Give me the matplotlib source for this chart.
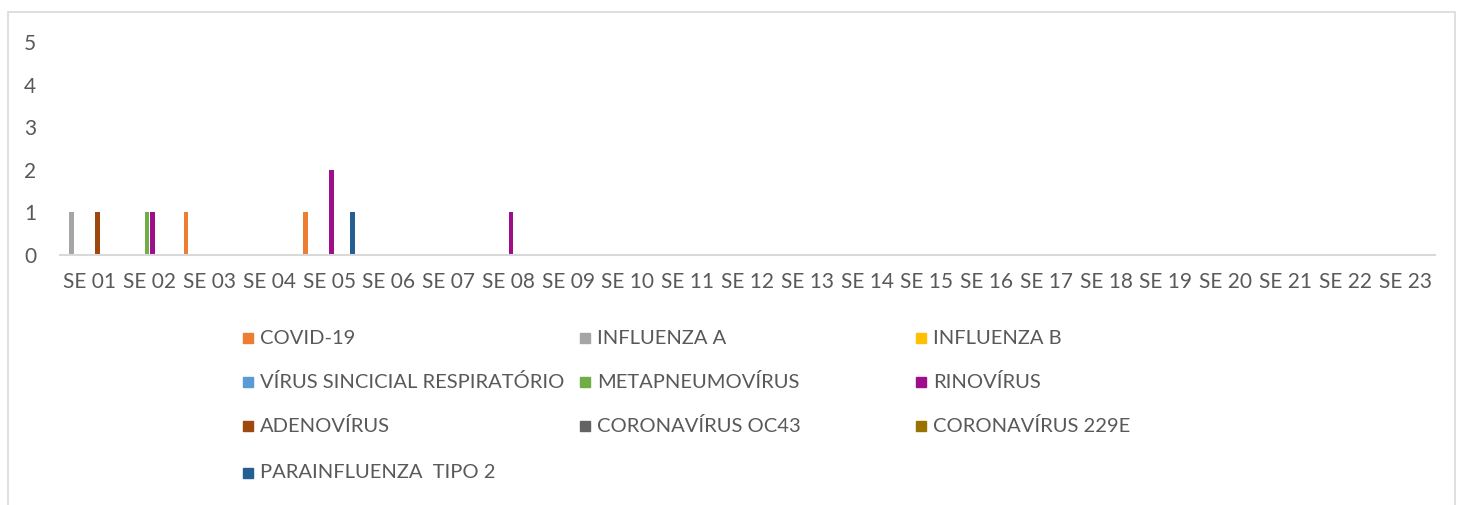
import matplotlib.pyplot as plt
import numpy as np
from matplotlib.patches import Rectangle

# categories (epidemiological weeks)
weeks = ["SE %02d" % i for i in range(1, 24)]

series_names = [
    "COVID-19", "INFLUENZA A", "INFLUENZA B",
    "VÍRUS SINCICIAL RESPIRATÓRIO", "METAPNEUMOVÍRUS", "RINOVÍRUS",
    "ADENOVÍRUS", "CORONAVÍRUS OC43", "CORONAVÍRUS 229E",
    "PARAINFLUENZA  TIPO 2",
]
colors = [
    "#ed7d31", "#a5a5a5", "#ffc000",
    "#5b9bd5", "#70ad47", "#9e0e8a",
    "#9e480e", "#636363", "#997300",
    "#255e91",
]

# counts per week, SE 01..SE 23
covid = [0, 0, 1, 0, 1] + [0] * 18
flu_a = [1] + [0] * 22
flu_b = [0] * 23
vsr = [0] * 23
metapneumo = [0, 1] + [0] * 21
rino = [0, 1, 0, 0, 2, 0, 0, 1] + [0] * 15
adeno = [1] + [0] * 22
oc43 = [0] * 23
c229e = [0] * 23
para2 = [0, 0, 0, 0, 1] + [0] * 18

values = [covid, flu_a, flu_b, vsr, metapneumo, rino, adeno, oc43, c229e, para2]

W, H = 1458, 505
plt.rcParams['font.family'] = ['Lato', 'DejaVu Sans']
fig = plt.figure(figsize=(W / 100, H / 100), dpi=100)
ax = fig.add_axes([60 / W, 1 - 255 / H, 1375 / W, 213 / H])

x = np.arange(len(weeks))
n = len(values)
step = 0.087
for i, (vals, c) in enumerate(zip(values, colors)):
    ax.bar(x + (i - (n - 1) / 2) * step, vals, width=0.075, color=c, label=series_names[i])

ax.set_xlim(-0.5, len(weeks) - 0.5)
ax.set_ylim(0, 5)
ax.set_yticks(range(6))
ax.set_xticks(x)
ax.set_xticklabels(weeks)
ax.tick_params(axis='both', length=0, labelsize=15, colors="#595959")
ax.tick_params(axis='x', pad=12)
ax.tick_params(axis='y', pad=17)
for s in ["top", "right", "left"]:
    ax.spines[s].set_visible(False)
ax.spines["bottom"].set_color("#d9d9d9")
ax.spines["bottom"].set_linewidth(1.5)

# legend drawn by hand: 3 fixed columns, row-major
col_x = [243, 580, 916]
row_y = [338, 382, 426, 473]
for k, name in enumerate(series_names):
    cx = col_x[k % 3]
    cy = row_y[k // 3]
    fig.patches.append(Rectangle((cx / W, 1 - (cy + 5) / H), 10 / W, 10 / H,
                                 transform=fig.transFigure, color=colors[k]))
    fig.text((cx + 17) / W, 1 - cy / H, name, fontsize=14.5, color="#595959",
             va="center", ha="left")

# chart border
fig.patches.append(Rectangle((8 / W, -0.1), 1447 / W, 1.1 - 12 / H, transform=fig.transFigure,
                             fill=False, edgecolor="#d9d9d9", linewidth=1.2))

fig.savefig("out.png", dpi=100)
